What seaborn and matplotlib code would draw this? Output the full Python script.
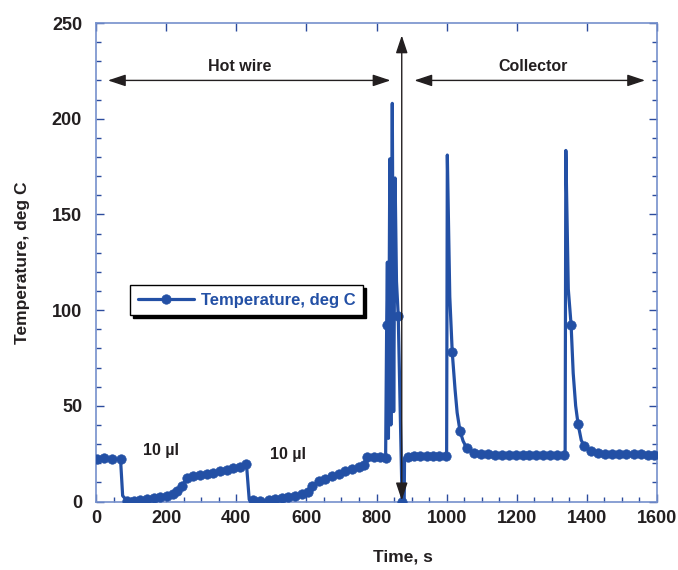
import matplotlib
matplotlib.use("Agg")
import matplotlib.pyplot as plt
import numpy as np
import pandas as pd
import seaborn as sns
from matplotlib.ticker import MultipleLocator

# ---- data ----
# sampled readings (drawn with markers)
time_marked = [2, 24, 47, 70,
               89, 107, 126, 145, 164, 183, 202, 219, 232, 246, 259, 278, 297, 316, 335, 354, 373, 392, 411, 429,
               448, 468, 492, 511, 530, 549, 568, 587, 604, 616, 635, 654, 673, 692, 711, 730, 749, 763, 774, 792, 810, 826,
               829, 862, 873,
               889, 907, 925, 943, 961, 979, 997,
               1016, 1038, 1058, 1077, 1097, 1117, 1137, 1157, 1177, 1197, 1217, 1236, 1256, 1276, 1296, 1316, 1335,
               1355, 1375, 1393, 1413, 1433, 1453, 1473, 1493, 1513, 1533, 1553, 1573, 1592]
temp_marked = [22.3, 22.5, 22.3, 22.0,
               0.3, 0.5, 0.8, 1.2, 1.7, 2.2, 2.9, 3.8, 5.3, 8.3, 12.3, 13.2, 13.8, 14.3, 14.9, 15.7, 16.7, 17.4, 18.2, 19.8,
               0.6, 0.1, 0.9, 1.2, 1.6, 2.1, 3.0, 3.8, 5.2, 8.2, 10.5, 12.0, 13.4, 14.6, 15.7, 16.9, 18.1, 19.3, 23.3, 23.3, 23.0, 22.7,
               92, 97, 0,
               23.3, 23.6, 23.8, 23.9, 24.0, 24.0, 24.0,
               78, 37, 27.7, 25.5, 24.9, 24.6, 24.4, 24.3, 24.2, 24.2, 24.1, 24.1, 24.1, 24.1, 24.1, 24.1, 24.1,
               92.3, 40.3, 28.8, 26.4, 25.3, 24.9, 24.8, 24.7, 24.6, 24.6, 24.6, 24.5, 24.5]
# fast transients of the trace (line only, no markers)
time_trace = [76, 437,
              831, 834, 838, 841, 845, 849, 853, 857, 879, 880,
              1000, 1002, 1009, 1024, 1030, 1047,
              1338, 1340, 1347, 1361, 1368, 1384]
temp_trace = [3.0, 1.0,
              125, 33, 179, 40, 208, 47, 169, 115, 0.5, 22.6,
              24.0, 181, 107, 58.6, 46.4, 31.6,
              24.2, 183.4, 111, 67, 50, 32]

x_ticks = [0, 200, 400, 600, 800, 1000, 1200, 1400, 1600]
y_ticks = [0, 50, 100, 150, 200, 250]
series_name = "Temperature, deg C"

# ---- styling ----
LINE = "#2350a5"
TXT = "#231f20"
SPINE = "#7590cc"
TICK = "#2c4c9e"

sns.set_theme(style="white")
plt.rcParams["font.family"] = ["Liberation Sans", "DejaVu Sans"]

df = pd.DataFrame({
    "t": time_marked + time_trace,
    "T": temp_marked + temp_trace,
    "marked": [True] * len(time_marked) + [False] * len(time_trace),
}).sort_values("t").reset_index(drop=True)

fig = plt.figure(figsize=(6.78, 5.70), dpi=100)
ax = fig.add_axes([96 / 678, 68.5 / 570, 561 / 678, 478.5 / 570])

sns.lineplot(data=df, x="t", y="T", sort=False, estimator=None, ax=ax,
             color=LINE, lw=2.3, marker="o", markersize=6.8,
             markevery=list(df["marked"]), markeredgecolor=LINE,
             markeredgewidth=0.5, label=series_name, zorder=3)

ax.set_xlim(x_ticks[0], x_ticks[-1])
ax.set_ylim(y_ticks[0], y_ticks[-1])
ax.set_xticks(x_ticks)
ax.set_yticks(y_ticks)
ax.xaxis.set_minor_locator(MultipleLocator(50))
ax.yaxis.set_minor_locator(MultipleLocator(10))
ax.tick_params(which="both", direction="in", color=TICK, width=1,
               top=True, right=True, bottom=True, left=True)
ax.tick_params(which="major", length=6, labelsize=13, labelcolor=TXT)
ax.tick_params(axis="y", which="major", pad=10)
ax.tick_params(axis="x", which="major", pad=6)
ax.tick_params(which="minor", length=3.5)
ax.tick_params(axis="x", which="minor", top=False)
for lab in ax.get_xticklabels() + ax.get_yticklabels():
    lab.set_fontweight("bold")
for sp in ax.spines.values():
    sp.set_color(SPINE)
    sp.set_linewidth(1.2)

ax.set_xlabel("Time, s", fontsize=12.5, fontweight="bold", color=TXT)
ax.set_ylabel("Temperature, deg C", fontsize=12.5, fontweight="bold", color=TXT)
ax.xaxis.set_label_coords((403 - 96) / 561, (501.5 - 550) / 478.5)
ax.yaxis.set_label_coords((30 - 96) / 561, 0.5)

# annotations
arrow_style = "<|-|>,head_length=0.6,head_width=0.2"
ap = dict(arrowstyle=arrow_style, color=TXT, lw=1.0, mutation_scale=18,
          shrinkA=0, shrinkB=0)
ax.annotate("", xy=(34, 220), xytext=(840, 220), arrowprops=ap, zorder=4)
ax.annotate("", xy=(908, 220), xytext=(1566, 220), arrowprops=ap, zorder=4)
ax.annotate("", xy=(872, 0.6), xytext=(872, 243.5), arrowprops=ap, zorder=4)
ax.text(411, 227.5, "Hot wire", ha="center", va="center", fontsize=11.5,
        fontweight="bold", color=TXT)
ax.text(1246, 227.5, "Collector", ha="center", va="center", fontsize=11.5,
        fontweight="bold", color=TXT)
ax.text(186, 26.7, "10 µl", ha="center", va="center", fontsize=11.5,
        fontweight="bold", color=TXT)
ax.text(549, 24.6, "10 µl", ha="center", va="center", fontsize=11.5,
        fontweight="bold", color=TXT)

leg = ax.legend(loc="upper left", bbox_to_anchor=(34 / 561, (501.5 - 285) / 478.5),
                borderaxespad=0, frameon=True, fancybox=False,
                shadow={"color": "black", "alpha": 1.0},
                edgecolor="black", framealpha=1, handlelength=3.4,
                handletextpad=0.4, borderpad=0.45, labelcolor=LINE,
                prop={"weight": "bold", "size": 12})
leg.get_frame().set_linewidth(1.0)

fig.savefig("out.png", dpi=100)
